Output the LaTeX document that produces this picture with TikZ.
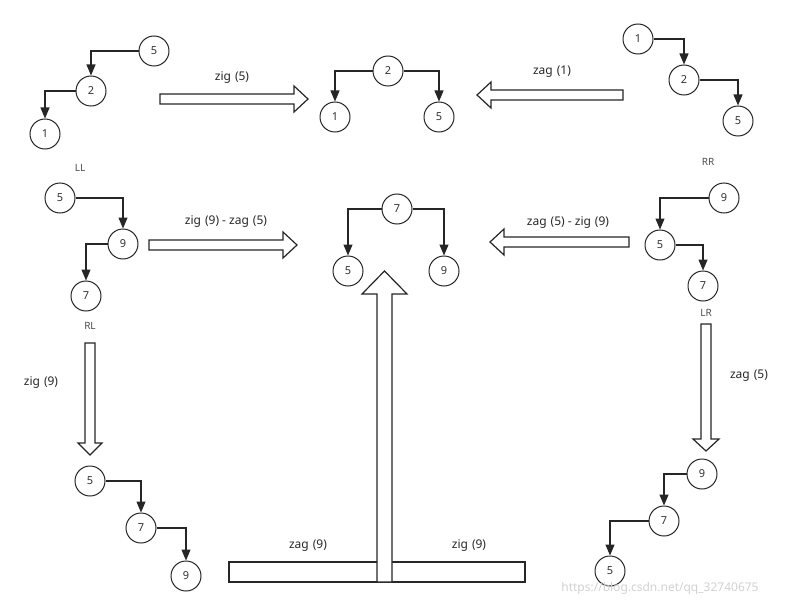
\documentclass[tikz,border=0pt]{standalone}
\usepackage{fontspec}
\setmainfont{Noto Sans}
\usetikzlibrary{arrows.meta}
\begin{document}
\begin{tikzpicture}[x=1pt,y=-1pt,
  nd/.style={circle,draw=black!85,line width=1pt,minimum size=30pt,inner sep=0pt,font=\fontsize{11}{11}\selectfont\color{black!80}},
  ed/.style={draw=black!85,line width=1.2pt,-{Triangle[length=11pt,width=9pt]}},
  lab/.style={font=\bfseries\fontsize{12}{12}\selectfont,text=black!85},
  tag/.style={font=\fontsize{10}{10}\selectfont,text=black!70},
  big/.style={draw=black!85,line width=1.2pt,fill=white}]
\useasboundingbox (0,0) rectangle (792,607);
% top-left
\node[nd] (a5) at (154,51) {5};
\node[nd] (a2) at (91,91) {2};
\node[nd] (a1) at (45,134) {1};
\draw[ed] (a5.west) -| (a2.north);
\draw[ed] (a2.west) -| (a1.north);
\draw[big] (160,94)--(294,94)--(294,86)--(308,99)--(294,112)--(294,104)--(160,104)--cycle;
\node[lab] (l1) at (232,78) {zig\,\,(5)};
% top-middle
\node[nd] (b2) at (388,71) {2};
\node[nd] (b1) at (335,117) {1};
\node[nd] (b5) at (439,117) {5};
\draw[ed] (b2.west) -| (b1.north);
\draw[ed] (b2.east) -| (b5.north);
\draw[big] (623,90)--(491,90)--(491,82)--(477,95)--(491,108)--(491,100)--(623,100)--cycle;
\node[lab] (l2) at (552,72) {zag\,\,(1)};
% top-right
\node[nd] (c1) at (638,39) {1};
\node[nd] (c2) at (684,80) {2};
\node[nd] (c5) at (738,121) {5};
\draw[ed] (c1.east) -| (c2.north);
\draw[ed] (c2.east) -| (c5.north);
% LL
\node[tag] (tLL) at (80,168) {LL};
\node[nd] (d5) at (60,198) {5};
\node[nd] (d9) at (123,244) {9};
\node[nd] (d7) at (86,296) {7};
\draw[ed] (d5.east) -| (d9.north);
\draw[ed] (d9.west) -| (d7.north);
\draw[big] (149,240)--(283,240)--(283,232)--(297,245)--(283,258)--(283,250)--(149,250)--cycle;
\node[lab] (l3) at (226,222) {zig\,\,(9) - zag\,\,(5)};
% middle
\node[nd] (e7) at (397,209) {7};
\node[nd] (e5) at (348,271) {5};
\node[nd] (e9) at (444,271) {9};
\draw[ed] (e7.west) -| (e5.north);
\draw[ed] (e7.east) -| (e9.north);
\draw[big] (629,237)--(504,237)--(504,229)--(490,242)--(504,255)--(504,247)--(629,247)--cycle;
\node[lab] (l4) at (568,223) {zag\,\,(5) - zig\,\,(9)};
% RR
\node[tag] (tRR) at (708,162) {RR};
\node[nd] (f9) at (724,198) {9};
\node[nd] (f5) at (660,245) {5};
\node[nd] (f7) at (703,286) {7};
\draw[ed] (f9.west) -| (f5.north);
\draw[ed] (f5.east) -| (f7.north);
% LR
\node[tag] (tLR) at (706,313) {LR};
\draw[big] (701,324)--(711,324)--(711,439)--(719,439)--(706,451)--(693,439)--(701,439)--cycle;
\node[lab] (l5) at (749,376) {zag\,\,(5)};
% RL
\node[tag] (tRL) at (90,326) {RL};
\draw[big] (85,343)--(95,343)--(95,443)--(102,443)--(90,455)--(78,443)--(85,443)--cycle;
\node[lab] (l6) at (41,383) {zig\,\,(9)};
% bottom-left
\node[nd] (g5) at (90,481) {5};
\node[nd] (g7) at (141,528) {7};
\node[nd] (g9) at (186,576) {9};
\draw[ed] (g5.east) -| (g7.north);
\draw[ed] (g7.east) -| (g9.north);
% bottom-right
\node[nd] (h9) at (702,474) {9};
\node[nd] (h7) at (664,521) {7};
\node[nd] (h5) at (610,571) {5};
\draw[ed] (h9.west) -| (h7.north);
\draw[ed] (h7.west) -| (h5.north);
% T arrow
\draw[big] (229,562) rectangle (525,582);
\draw[big] (377,582)--(377,294)--(362,294)--(384.5,271)--(407,294)--(392,294)--(392,582)--cycle;
\node[lab] (l7) at (308,546) {zag\,\,(9)};
\node[lab] (l8) at (469,546) {zig\,\,(9)};
\node[font=\fontsize{12}{12}\selectfont,text=black!18] (wm) at (660,588) {https://blog.csdn.net/qq\_32740675};
\end{tikzpicture}
\end{document}
